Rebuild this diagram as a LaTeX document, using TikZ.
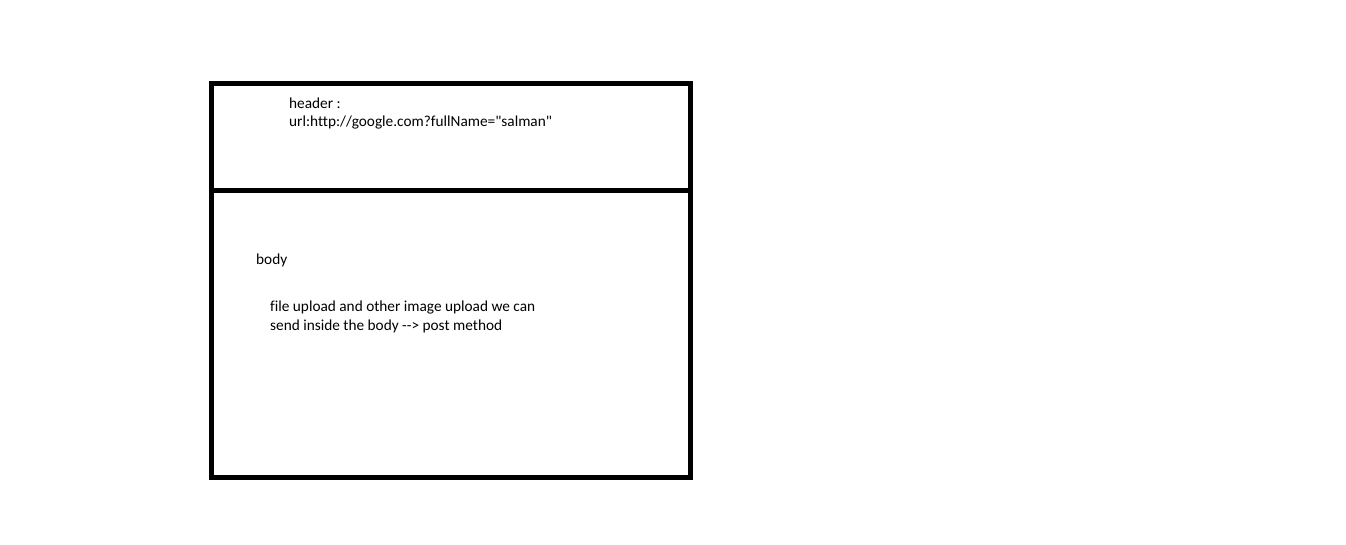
\documentclass[tikz,border=0pt]{standalone}
\usepackage{fontspec}
\newfontfamily\paintfont[Ligatures=NoCommon]{Carlito}
\usepackage{tikz}
\begin{document}
\begin{tikzpicture}[x=1pt,y=-1pt,
        boxline/.style={line width=5pt},
        note/.style={anchor=base west, inner sep=0pt, align=left,
            font=\paintfont\fontsize{15.3}{18}\selectfont}]
        \useasboundingbox (0,0) rectangle (1346,545);
        % Corners of the request box
        \coordinate (TL) at (211.5,84);
        \coordinate (BR) at (690.5,477);
        \coordinate (DL) at (211.5,190.5);
        \coordinate (DR) at (690.5,190.5);

        \draw[boxline] (TL) rectangle (BR);
        \draw[boxline] (DL) -- (DR);

        % Header part
        \node[note] (header) at (289,127) {header :\\url:http://google.com?fullName="salman"};
        % Body part
        \node[note] (body) at (256,265) {body};
        \node[note] (upload) at (270,330) {file upload and other image upload we can\\send inside the body --> post method};
    \end{tikzpicture}
\end{document}
